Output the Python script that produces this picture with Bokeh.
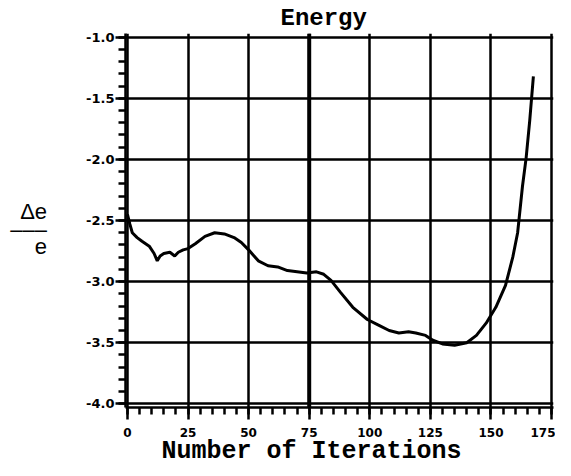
from bokeh.plotting import figure
from bokeh.models import Span, FixedTicker, Range1d, Title
from bokeh.embed import file_html
from bokeh.resources import INLINE

iterations = [0, 1, 2, 4, 6, 9, 11, 12.3, 13.5, 15, 17.5, 19.5, 21, 23, 25, 28, 32, 36, 40, 44, 47,
              50, 54, 58, 62, 66, 70, 74, 78, 81, 84, 88, 93, 99, 104, 108, 112, 116, 119, 123,
              126, 130, 135, 140, 144, 148, 152, 156, 159, 161, 163, 164.5, 166, 167.5]
delta_e = [-2.45, -2.53, -2.60, -2.64, -2.67, -2.71, -2.77, -2.83, -2.79, -2.77, -2.76, -2.79, -2.76,
           -2.74, -2.73, -2.69, -2.63, -2.60, -2.61, -2.64, -2.68, -2.74, -2.83, -2.87, -2.88, -2.91,
           -2.92, -2.93, -2.92, -2.94, -2.99, -3.09, -3.21, -3.31, -3.36, -3.40, -3.42, -3.41, -3.42,
           -3.44, -3.48, -3.51, -3.52, -3.50, -3.44, -3.34, -3.21, -3.03, -2.80, -2.60, -2.22, -1.99,
           -1.68, -1.32]
x_ticks = [0, 25, 50, 75, 100, 125, 150, 175]
y_ticks = [-4.0, -3.5, -3.0, -2.5, -2.0, -1.5, -1.0]

p = figure(width=555, height=460, output_backend="svg", toolbar_location=None,
           x_range=Range1d(-0.8, 175.8), y_range=Range1d(-4.03, -0.97),
           min_border_left=125, min_border_right=2, min_border_top=0, min_border_bottom=0)
p.outline_line_color = None
p.background_fill_color = "white"

p.title.text = "Energy"
p.title.align = "left"
p.title.offset = 155
p.title.text_font = "Liberation Mono"
p.title.text_font_style = "bold"
p.title.text_font_size = "24px"
p.title.text_color = "black"
p.title.standoff = 4
p.title.text_line_height = 0.8

for ax, ticks, minor in ((p.xaxis[0], x_ticks, [v * 5 for v in range(36)]),
                         (p.yaxis[0], y_ticks, [-4 + v * 0.1 for v in range(31)])):
    ax.ticker = FixedTicker(ticks=ticks, minor_ticks=minor)
    ax.axis_line_width = 2.5
    ax.axis_line_color = "black"
    ax.major_tick_line_width = 2.5
    ax.minor_tick_line_width = 2.5
    ax.major_tick_in = 0
    ax.minor_tick_out = 7
    ax.minor_tick_in = 0
    ax.major_label_text_font = "DejaVu Sans"
    ax.major_label_text_font_style = "bold"
    ax.major_label_text_color = "black"

p.xaxis[0].major_tick_out = 12
p.xaxis[0].major_label_standoff = 8
p.xaxis[0].major_label_text_font_size = "12px"
p.yaxis[0].major_tick_out = 10
p.yaxis[0].major_label_standoff = 1
p.yaxis[0].major_label_text_font_size = "13px"

p.yaxis[0].major_label_overrides = {v: f"{v:.1f}" for v in y_ticks}
p.yaxis[0].axis_label = " \n\u0394e\n\u2013\u2013\u2013\ne"
p.yaxis[0].axis_label_orientation = "horizontal"
p.yaxis[0].axis_label_text_font = "Liberation Sans"
p.yaxis[0].axis_label_text_font_style = "normal"
p.yaxis[0].axis_label_text_font_size = "22px"
p.yaxis[0].axis_label_text_color = "black"
p.yaxis[0].axis_label_text_line_height = 0.7
p.yaxis[0].axis_label_standoff = 36

xlabel = Title(text="Number of Iterations", align="left", offset=36, standoff=-10,
               text_font="Liberation Mono", text_font_style="bold", text_font_size="25px",
               text_color="black", text_line_height=0.8)
p.add_layout(xlabel, "below")

p.xgrid.ticker = FixedTicker(ticks=x_ticks)
p.ygrid.ticker = FixedTicker(ticks=y_ticks)
for g in (p.xgrid[0], p.ygrid[0]):
    g.grid_line_color = "black"
    g.grid_line_width = 2.5
    g.grid_line_alpha = 1.0

p.add_layout(Span(location=75, dimension="height", line_color="black", line_width=4))

p.line(iterations, delta_e, line_color="black", line_width=3)

open("out.html", "w").write(file_html(p, INLINE))
